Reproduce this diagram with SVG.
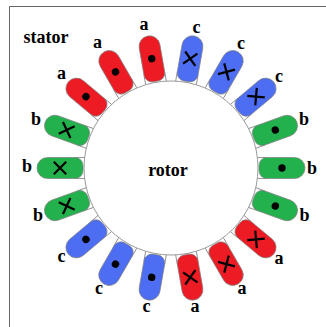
<svg xmlns="http://www.w3.org/2000/svg" width="326" height="327" viewBox="0 0 326 327">
<style>
text{font-family:"Liberation Serif","Times New Roman",serif;font-weight:bold;font-size:18px;fill:#000;text-anchor:middle}
.s{stroke:#7f7f7f;stroke-width:.7}
.a{fill:#ed1c24}.b{fill:#22b14c}.c{fill:#4d6df3}
.m{stroke:#000;stroke-width:2.200;fill:none}
.t{stroke:#7f7f7f;stroke-width:.8;fill:none}
</style>
<defs>
<path id="slot" d="M-10.500,-123.500A10.500,10.500 0 0 1 10.500,-123.500V-96A8,8 0 0 1 2.500,-88H-2.500A8,8 0 0 1 -10.500,-96Z"/>
<circle id="dot" cy="-111" r="3.700" fill="#000"/>
<path id="cross" class="m" d="M-6.200,-117.200L6.200,-104.800M6.200,-117.200L-6.200,-104.800"/>
<path id="tooth" class="t" d="M-10.500,-86.500V-96M10.500,-86.500V-96"/>
</defs>
<rect width="326" height="327" fill="#fff"/>
<path d="M9.500,327V6.500H326" fill="none" stroke="#666" stroke-width="1"/>
<g id="connectors" transform="translate(171,168)">
<use href="#tooth" transform="rotate(10)"/><use href="#tooth" transform="rotate(30)"/><use href="#tooth" transform="rotate(50)"/>
<use href="#tooth" transform="rotate(70)"/><use href="#tooth" transform="rotate(90)"/><use href="#tooth" transform="rotate(110)"/>
<use href="#tooth" transform="rotate(130)"/><use href="#tooth" transform="rotate(150)"/><use href="#tooth" transform="rotate(170)"/>
<use href="#tooth" transform="rotate(190)"/><use href="#tooth" transform="rotate(210)"/><use href="#tooth" transform="rotate(230)"/>
<use href="#tooth" transform="rotate(250)"/><use href="#tooth" transform="rotate(270)"/><use href="#tooth" transform="rotate(290)"/>
<use href="#tooth" transform="rotate(310)"/><use href="#tooth" transform="rotate(330)"/><use href="#tooth" transform="rotate(350)"/>
</g>
<g id="rotor"><circle cx="171" cy="168" r="87" fill="#fff" stroke="#7f7f7f" stroke-width=".8"/><text x="168" y="175.500">rotor</text></g>
<g id="stator"><text x="46" y="43">stator</text></g>
<g id="slot10"><g transform="translate(171,168) rotate(10)"><use href="#slot" class="c s"/><use href="#cross"/></g><text x="196.500" y="32.500">c</text></g>
<g id="slot30"><g transform="translate(171,168) rotate(30)"><use href="#slot" class="c s"/><use href="#cross"/></g><text x="241" y="48.500">c</text></g>
<g id="slot50"><g transform="translate(171,168) rotate(50)"><use href="#slot" class="c s"/><use href="#cross"/></g><text x="279" y="81.500">c</text></g>
<g id="slot70"><g transform="translate(171,168) rotate(70)"><use href="#slot" class="b s"/><use href="#dot"/></g><text x="304" y="125">b</text></g>
<g id="slot90"><g transform="translate(171,168) rotate(90)"><use href="#slot" class="b s"/><use href="#dot"/></g><text x="312" y="173.500">b</text></g>
<g id="slot110"><g transform="translate(171,168) rotate(110)"><use href="#slot" class="b s"/><use href="#dot"/></g><text x="304.500" y="220.500">b</text></g>
<g id="slot130"><g transform="translate(171,168) rotate(130)"><use href="#slot" class="a s"/><use href="#cross"/></g><text x="279" y="263.500">a</text></g>
<g id="slot150"><g transform="translate(171,168) rotate(150)"><use href="#slot" class="a s"/><use href="#cross"/></g><text x="242" y="294">a</text></g>
<g id="slot170"><g transform="translate(171,168) rotate(170)"><use href="#slot" class="a s"/><use href="#cross"/></g><text x="195" y="311.500">a</text></g>
<g id="slot190"><g transform="translate(171,168) rotate(190)"><use href="#slot" class="c s"/><use href="#dot"/></g><text x="146.500" y="311.500">c</text></g>
<g id="slot210"><g transform="translate(171,168) rotate(210)"><use href="#slot" class="c s"/><use href="#dot"/></g><text x="99" y="294">c</text></g>
<g id="slot230"><g transform="translate(171,168) rotate(230)"><use href="#slot" class="c s"/><use href="#dot"/></g><text x="61.500" y="262">c</text></g>
<g id="slot250"><g transform="translate(171,168) rotate(250)"><use href="#slot" class="b s"/><use href="#cross"/></g><text x="38" y="221">b</text></g>
<g id="slot270"><g transform="translate(171,168) rotate(270)"><use href="#slot" class="b s"/><use href="#cross"/></g><text x="27" y="172">b</text></g>
<g id="slot290"><g transform="translate(171,168) rotate(290)"><use href="#slot" class="b s"/><use href="#cross"/></g><text x="36" y="125">b</text></g>
<g id="slot310"><g transform="translate(171,168) rotate(310)"><use href="#slot" class="a s"/><use href="#dot"/></g><text x="61.500" y="79">a</text></g>
<g id="slot330"><g transform="translate(171,168) rotate(330)"><use href="#slot" class="a s"/><use href="#dot"/></g><text x="97.500" y="47.500">a</text></g>
<g id="slot350"><g transform="translate(171,168) rotate(350)"><use href="#slot" class="a s"/><use href="#dot"/></g><text x="144" y="30">a</text></g>
</svg>
